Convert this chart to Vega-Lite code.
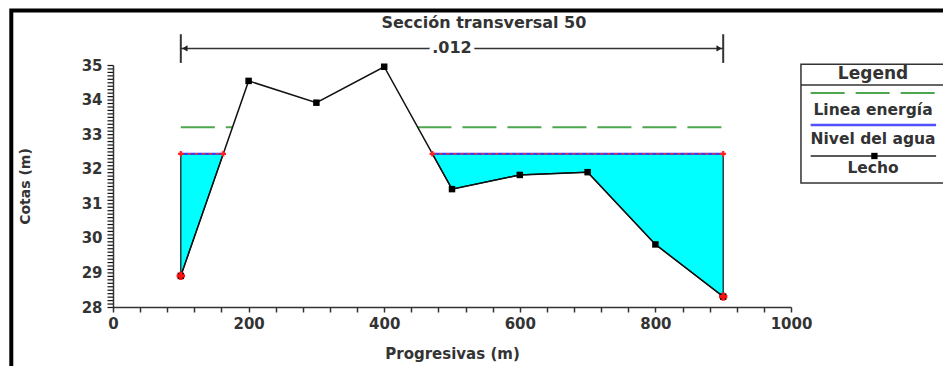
{
  "$schema": "https://vega.github.io/schema/vega-lite/v6.json",
  "width": 678,
  "height": 242,
  "autosize": {"type": "none"},
  "padding": {"left": 113, "top": 65, "right": 152, "bottom": 59},
  "background": "white",
  "config": {"view": {"stroke": null}, "font": "DejaVu Sans"},
  "datasets": {
    "seccion": [{"titulo": "Sección transversal 50", "n": ".012", "inicio": 100, "fin": 900}],
    "lecho": [
      {"x": 100, "cota": 28.9, "banco": true},
      {"x": 200, "cota": 34.54, "banco": false},
      {"x": 300, "cota": 33.91, "banco": false},
      {"x": 400, "cota": 34.95, "banco": false},
      {"x": 500, "cota": 31.41, "banco": false},
      {"x": 600, "cota": 31.82, "banco": false},
      {"x": 700, "cota": 31.9, "banco": false},
      {"x": 800, "cota": 29.81, "banco": false},
      {"x": 900, "cota": 28.3, "banco": true}
    ],
    "espejo": [
      {"tramo": "izq", "x": 100, "fondo": 28.9, "nivel": 32.43},
      {"tramo": "izq", "x": 162.6, "fondo": 32.43, "nivel": 32.43},
      {"tramo": "der", "x": 471, "fondo": 32.43, "nivel": 32.43},
      {"tramo": "der", "x": 500, "fondo": 31.41, "nivel": 32.43},
      {"tramo": "der", "x": 600, "fondo": 31.82, "nivel": 32.43},
      {"tramo": "der", "x": 700, "fondo": 31.9, "nivel": 32.43},
      {"tramo": "der", "x": 800, "fondo": 29.81, "nivel": 32.43},
      {"tramo": "der", "x": 900, "fondo": 28.3, "nivel": 32.43}
    ],
    "nivel": [
      {"tramo": "izq", "x": 100, "cota": 32.43},
      {"tramo": "izq", "x": 162.6, "cota": 32.43},
      {"tramo": "der", "x": 471, "cota": 32.43},
      {"tramo": "der", "x": 900, "cota": 32.43}
    ],
    "energia": [
      {"tramo": "izq", "x": 100, "cota": 33.2},
      {"tramo": "izq", "x": 176, "cota": 33.2},
      {"tramo": "der", "x": 449, "cota": 33.2},
      {"tramo": "der", "x": 900, "cota": 33.2}
    ],
    "leyenda": [
      {"entrada": "Linea energía"},
      {"entrada": "Nivel del agua"},
      {"entrada": "Lecho"}
    ],
    "cabecera": [{"texto": "Legend"}]
  },
  "layer": [
    {
      "data": {"name": "espejo"},
      "mark": {"type": "area", "fill": "#00ffff", "stroke": "#111111", "strokeWidth": 1.2},
      "encoding": {
        "x": {
          "field": "x", "type": "quantitative", "title": "Progresivas (m)",
          "scale": {"domain": [0, 1000], "nice": false, "zero": false},
          "axis": {
            "values": [0, 40, 80, 120, 160, 200, 240, 280, 320, 360, 400, 440, 480, 520, 560, 600, 640, 680, 720, 760, 800, 840, 880, 920, 960, 1000],
            "tickCount": 200,
            "labelExpr": "datum.value % 200 === 0 ? format(datum.value, 'd') : ''",
            "labelOverlap": false, "labelFlush": false,
            "grid": false, "ticks": true, "tickSize": 5, "tickColor": "#333333", "tickWidth": 1.5,
            "domainColor": "#333333", "domainWidth": 1.5,
            "labelFont": "DejaVu Sans", "labelFontSize": 15, "labelFontWeight": "bold", "labelColor": "#333333", "labelPadding": 4,
            "titleFont": "DejaVu Sans", "titleFontSize": 15, "titleFontWeight": "bold", "titleColor": "#333333",
            "titleY": 46, "titleBaseline": "middle"
          }
        },
        "y": {
          "field": "fondo", "type": "quantitative", "stack": null, "title": "Cotas (m)",
          "scale": {"domain": [28, 35], "nice": false, "zero": false},
          "axis": {
            "values": [28, 28.1, 28.2, 28.3, 28.4, 28.5, 28.6, 28.7, 28.8, 28.9, 29, 29.1, 29.2, 29.3, 29.4, 29.5, 29.6, 29.7, 29.8, 29.9, 30, 30.1, 30.2, 30.3, 30.4, 30.5, 30.6, 30.7, 30.8, 30.9, 31, 31.1, 31.2, 31.3, 31.4, 31.5, 31.6, 31.7, 31.8, 31.9, 32, 32.1, 32.2, 32.3, 32.4, 32.5, 32.6, 32.7, 32.8, 32.9, 33, 33.1, 33.2, 33.3, 33.4, 33.5, 33.6, 33.7, 33.8, 33.9, 34, 34.1, 34.2, 34.3, 34.4, 34.5, 34.6, 34.7, 34.8, 34.9, 35],
            "tickCount": 200,
            "labelExpr": "abs(datum.value - round(datum.value)) < 0.01 ? format(datum.value, 'd') : ''",
            "labelOverlap": false, "labelFlush": false,
            "grid": false, "ticks": true, "tickSize": 6, "tickColor": "#111111", "tickWidth": 1.2, "tickRound": false,
            "domainColor": "#333333", "domainWidth": 1.5,
            "labelFont": "DejaVu Sans", "labelFontSize": 15, "labelFontWeight": "bold", "labelColor": "#333333", "labelPadding": 5,
            "titleFont": "DejaVu Sans", "titleFontSize": 14, "titleFontWeight": "bold", "titleColor": "#333333",
            "titleX": -88, "titleY": 121, "titleAngle": -90, "titleAlign": "center", "titleBaseline": "middle"
          }
        },
        "y2": {"field": "nivel"},
        "detail": {"field": "tramo"}
      }
    },
    {
      "data": {"name": "seccion"},
      "mark": {"type": "rect", "fill": null, "stroke": "black", "strokeWidth": 4},
      "encoding": {
        "x": {"datum": -150},
        "x2": {"datum": 1300},
        "y": {"datum": 36.58},
        "y2": {"datum": 26}
      }
    },
    {
      "data": {"name": "energia"},
      "mark": {"type": "line", "stroke": "#4ea64e", "strokeWidth": 2, "strokeDash": [34, 11]},
      "encoding": {
        "x": {"field": "x", "type": "quantitative"},
        "y": {"field": "cota", "type": "quantitative"},
        "detail": {"field": "tramo"}
      }
    },
    {
      "data": {"name": "lecho"},
      "mark": {"type": "line", "stroke": "#111111", "strokeWidth": 1.5},
      "encoding": {
        "x": {"field": "x", "type": "quantitative"},
        "y": {"field": "cota", "type": "quantitative"}
      }
    },
    {
      "data": {"name": "nivel"},
      "mark": {"type": "line", "stroke": "#3a3aff", "strokeWidth": 2},
      "encoding": {
        "x": {"field": "x", "type": "quantitative"},
        "y": {"field": "cota", "type": "quantitative"},
        "detail": {"field": "tramo"}
      }
    },
    {
      "data": {"name": "nivel"},
      "mark": {"type": "line", "stroke": "#ff3030", "strokeWidth": 1.5, "strokeDash": [3, 4]},
      "encoding": {
        "x": {"field": "x", "type": "quantitative"},
        "y": {"field": "cota", "type": "quantitative"},
        "detail": {"field": "tramo"}
      }
    },
    {
      "data": {"name": "nivel"},
      "mark": {"type": "point", "shape": "cross", "filled": true, "color": "#ff2020", "size": 30, "opacity": 1},
      "encoding": {
        "x": {"field": "x", "type": "quantitative"},
        "y": {"field": "cota", "type": "quantitative"}
      }
    },
    {
      "data": {"name": "lecho"},
      "mark": {"type": "point", "shape": "square", "filled": true, "color": "#000000", "size": 42, "opacity": 1},
      "encoding": {
        "x": {"field": "x", "type": "quantitative"},
        "y": {"field": "cota", "type": "quantitative"}
      }
    },
    {
      "data": {"name": "lecho"},
      "transform": [{"filter": "datum.banco"}],
      "mark": {"type": "point", "shape": "cross", "filled": true, "color": "#ff1010", "size": 70, "opacity": 1},
      "encoding": {
        "x": {"field": "x", "type": "quantitative"},
        "y": {"field": "cota", "type": "quantitative"}
      }
    },
    {
      "data": {"name": "seccion"},
      "mark": {"type": "rule", "stroke": "#333333", "strokeWidth": 1.5},
      "encoding": {
        "x": {"field": "inicio", "type": "quantitative"},
        "x2": {"field": "fin"},
        "y": {"datum": 35.48}
      }
    },
    {
      "data": {"name": "seccion"},
      "mark": {"type": "rule", "stroke": "#333333", "strokeWidth": 2},
      "encoding": {
        "x": {"field": "inicio", "type": "quantitative"},
        "y": {"datum": 35.06},
        "y2": {"datum": 35.89}
      }
    },
    {
      "data": {"name": "seccion"},
      "mark": {"type": "rule", "stroke": "#333333", "strokeWidth": 2},
      "encoding": {
        "x": {"field": "fin", "type": "quantitative"},
        "y": {"datum": 35.06},
        "y2": {"datum": 35.89}
      }
    },
    {
      "data": {"name": "seccion"},
      "mark": {"type": "point", "shape": "triangle-left", "filled": true, "color": "#222222", "size": 40, "opacity": 1, "xOffset": 4},
      "encoding": {
        "x": {"field": "inicio", "type": "quantitative"},
        "y": {"datum": 35.48}
      }
    },
    {
      "data": {"name": "seccion"},
      "mark": {"type": "point", "shape": "triangle-right", "filled": true, "color": "#222222", "size": 40, "opacity": 1, "xOffset": -4},
      "encoding": {
        "x": {"field": "fin", "type": "quantitative"},
        "y": {"datum": 35.48}
      }
    },
    {
      "data": {"name": "seccion"},
      "mark": {"type": "text", "font": "DejaVu Sans", "fontSize": 16, "fontWeight": "bold", "fill": "white", "stroke": "white", "strokeWidth": 9, "strokeJoin": "round", "baseline": "middle", "align": "center"},
      "encoding": {
        "x": {"datum": 500},
        "y": {"datum": 35.48},
        "text": {"field": "n"}
      }
    },
    {
      "data": {"name": "seccion"},
      "mark": {"type": "text", "font": "DejaVu Sans", "fontSize": 16, "fontWeight": "bold", "fill": "#333333", "baseline": "middle", "align": "center"},
      "encoding": {
        "x": {"datum": 500},
        "y": {"datum": 35.48},
        "text": {"field": "n"}
      }
    },
    {
      "data": {"name": "seccion"},
      "mark": {"type": "text", "font": "DejaVu Sans", "fontSize": 16, "fontWeight": "bold", "fill": "#333333", "baseline": "middle", "align": "center"},
      "encoding": {
        "x": {"datum": 547},
        "y": {"datum": 36.22},
        "text": {"field": "titulo"}
      }
    },
    {
      "data": {"name": "cabecera"},
      "mark": {"type": "rect", "fill": "white", "stroke": "#333333", "strokeWidth": 1.5},
      "encoding": {
        "x": {"datum": 1014.7},
        "x2": {"datum": 1227},
        "y": {"datum": 35.02},
        "y2": {"datum": 31.587}
      }
    },
    {
      "data": {"name": "cabecera"},
      "mark": {"type": "rule", "stroke": "#333333", "strokeWidth": 1.5},
      "encoding": {
        "x": {"datum": 1014.7},
        "x2": {"datum": 1227},
        "y": {"datum": 34.421}
      }
    },
    {
      "data": {"name": "cabecera"},
      "mark": {"type": "text", "font": "DejaVu Sans", "fontSize": 17, "fontWeight": "bold", "fill": "#333333", "baseline": "middle", "align": "center"},
      "encoding": {
        "x": {"datum": 1121},
        "y": {"datum": 34.74},
        "text": {"field": "texto"}
      }
    },
    {
      "data": {"name": "leyenda"},
      "transform": [{"filter": "datum.entrada === 'Linea energía'"}],
      "mark": {"type": "rule", "stroke": "#4ea64e", "strokeWidth": 2, "strokeDash": [34, 11]},
      "encoding": {
        "x": {"datum": 1029},
        "x2": {"datum": 1214},
        "y": {"datum": 34.19}
      }
    },
    {
      "data": {"name": "leyenda"},
      "transform": [{"filter": "datum.entrada === 'Linea energía'"}],
      "mark": {"type": "text", "font": "DejaVu Sans", "fontSize": 15.5, "fontWeight": "bold", "fill": "#333333", "baseline": "middle", "align": "center"},
      "encoding": {
        "x": {"datum": 1121},
        "y": {"datum": 33.698},
        "text": {"field": "entrada"}
      }
    },
    {
      "data": {"name": "leyenda"},
      "transform": [{"filter": "datum.entrada === 'Nivel del agua'"}],
      "mark": {"type": "rule", "stroke": "#5050ff", "strokeWidth": 2.5},
      "encoding": {
        "x": {"datum": 1029},
        "x2": {"datum": 1214},
        "y": {"datum": 33.264}
      }
    },
    {
      "data": {"name": "leyenda"},
      "transform": [{"filter": "datum.entrada === 'Nivel del agua'"}],
      "mark": {"type": "text", "font": "DejaVu Sans", "fontSize": 15.5, "fontWeight": "bold", "fill": "#333333", "baseline": "middle", "align": "center"},
      "encoding": {
        "x": {"datum": 1121},
        "y": {"datum": 32.859},
        "text": {"field": "entrada"}
      }
    },
    {
      "data": {"name": "leyenda"},
      "transform": [{"filter": "datum.entrada === 'Lecho'"}],
      "mark": {"type": "rule", "stroke": "#222222", "strokeWidth": 1.5},
      "encoding": {
        "x": {"datum": 1029},
        "x2": {"datum": 1214},
        "y": {"datum": 32.368}
      }
    },
    {
      "data": {"name": "leyenda"},
      "transform": [{"filter": "datum.entrada === 'Lecho'"}],
      "mark": {"type": "point", "shape": "square", "filled": true, "color": "#000000", "size": 40, "opacity": 1},
      "encoding": {
        "x": {"datum": 1123},
        "y": {"datum": 32.368}
      }
    },
    {
      "data": {"name": "leyenda"},
      "transform": [{"filter": "datum.entrada === 'Lecho'"}],
      "mark": {"type": "text", "font": "DejaVu Sans", "fontSize": 15.5, "fontWeight": "bold", "fill": "#333333", "baseline": "middle", "align": "center"},
      "encoding": {
        "x": {"datum": 1121},
        "y": {"datum": 32.021},
        "text": {"field": "entrada"}
      }
    }
  ]
}
